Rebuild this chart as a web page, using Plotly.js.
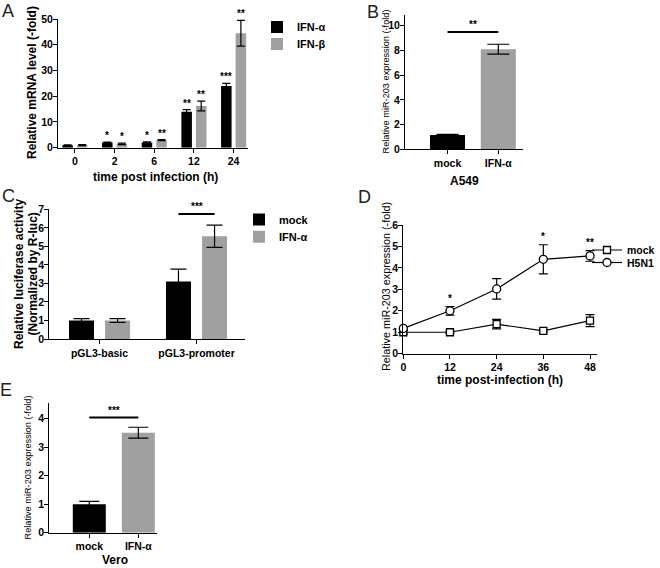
<!DOCTYPE html>
<html><head><meta charset="utf-8">
<script src="https://cdn.plot.ly/plotly-3.0.1.min.js"></script>
<style>html,body{margin:0;padding:0;background:#fff}#chart{width:660px;height:568px}</style>
</head><body><div id="chart"></div>
<script>
// ---------- Panel A : relative mRNA level ----------
const timeCatsA = ['0', '2', '6', '12', '24'];
const ifnAlphaA = [1.0, 2.0, 2.0, 14.0, 24.0];
const ifnAlphaErrA = [0.1, 0.2, 0.3, 0.8, 1.0];
const ifnBetaA = [1.0, 1.5, 2.9, 16.2, 44.5];
const ifnBetaErrA = [0.2, 0.3, 0.2, 1.9, 5.0];
const sigAlphaA = ['', '*', '*', '**', '***'];
const sigBetaA = ['', '*', '**', '**', '**'];
const seriesNamesA = ['IFN-α', 'IFN-β'];

// ---------- Panel B : A549 miR-203 ----------
const catsB = ['mock', 'IFN-α'];
const valsB = [1.16, 8.1];
const errB = [0.04, 0.4];
const sigB = '**';

// ---------- Panel C : luciferase ----------
const catsC = ['pGL3-basic', 'pGL3-promoter'];
const mockC = [1.0, 3.1];
const mockErrC = [0.1, 0.67];
const ifnC = [1.0, 5.55];
const ifnErrC = [0.1, 0.6];
const sigC = '***';
const seriesNamesC = ['mock', 'IFN-α'];

// ---------- Panel D : time course ----------
const timeD = [0, 12, 24, 36, 48];
const mockD = [1.0, 1.0, 1.38, 1.06, 1.54];
const mockErrD = [0.08, 0.05, 0.22, 0.06, 0.28];
const h5n1D = [1.18, 2.0, 3.02, 4.4, 4.56];
const h5n1ErrD = [0.08, 0.2, 0.48, 0.68, 0.25];
const sigD = ['', '*', '', '*', '**'];
const seriesNamesD = ['mock', 'H5N1'];

// ---------- Panel E : Vero ----------
const catsE = ['mock', 'IFN-α'];
const valsE = [1.0, 3.51];
const errE = [0.1, 0.19];
const sigE = '***';

// ---------- styling ----------
const W = 660, H = 568;
const px = v => v / W, py = v => 1 - v / H;
const BLACK = '#000000', GRAY = '#a0a0a0';
const FONT = 'Liberation Sans, Arial, Helvetica, sans-serif';
const idx = a => a.map((_, i) => i);

const baseAx = {
  showline: true, linecolor: '#000', linewidth: 1, ticks: 'outside', ticklen: 4,
  tickwidth: 1, tickcolor: '#000', showgrid: false, zeroline: false, fixedrange: true,
  tickfont: {family: FONT, size: 10.5, color: '#000', weight: 'bold'}
};
const ax = o => Object.assign({}, baseAx, o);
const yax = o => Object.assign({}, baseAx, {ticklabelstandoff: -2}, o);
const errStyle = (arr, w) => ({type: 'data', array: arr, visible: true, color: '#000', thickness: 1.2, width: w});

// bar geometry (category units)
const wA = 0.265, offA = [-0.316, 0.051];
const wB = 0.69, wE = 0.673;
const wC = 0.258, offC = [-0.315, 0.057];

const traces = [];
// A
traces.push({type: 'bar', x: idx(timeCatsA), y: ifnAlphaA, name: seriesNamesA[0], xaxis: 'x', yaxis: 'y',
  width: wA, offset: offA[0], marker: {color: BLACK}, error_y: errStyle(ifnAlphaErrA, 4), legend: 'legend'});
traces.push({type: 'bar', x: idx(timeCatsA), y: ifnBetaA, name: seriesNamesA[1], xaxis: 'x', yaxis: 'y',
  width: wA, offset: offA[1], marker: {color: GRAY}, error_y: errStyle(ifnBetaErrA, 4), legend: 'legend2'});
// B
traces.push({type: 'bar', x: idx(catsB), y: valsB, xaxis: 'x2', yaxis: 'y2', showlegend: false,
  width: wB, offset: -wB / 2, marker: {color: [BLACK, GRAY]}, error_y: errStyle(errB, 11)});
// C
traces.push({type: 'bar', x: idx(catsC), y: mockC, name: seriesNamesC[0], xaxis: 'x3', yaxis: 'y3',
  width: wC, offset: offC[0], marker: {color: BLACK}, error_y: errStyle(mockErrC, 8), legend: 'legend3'});
traces.push({type: 'bar', x: idx(catsC), y: ifnC, name: seriesNamesC[1], xaxis: 'x3', yaxis: 'y3',
  width: wC, offset: offC[1], marker: {color: GRAY}, error_y: errStyle(ifnErrC, 8), legend: 'legend4'});
// D
traces.push({type: 'scatter', mode: 'lines+markers', x: timeD, y: mockD, name: seriesNamesD[0], xaxis: 'x4', yaxis: 'y4',
  line: {color: '#000', width: 1.2}, cliponaxis: false,
  marker: {symbol: 'square', size: 7, color: '#fff', line: {color: '#000', width: 1.3}},
  error_y: errStyle(mockErrD, 4.5), legend: 'legend5'});
traces.push({type: 'scatter', mode: 'lines+markers', x: timeD, y: h5n1D, name: seriesNamesD[1], xaxis: 'x4', yaxis: 'y4',
  line: {color: '#000', width: 1.2}, cliponaxis: false,
  marker: {symbol: 'circle', size: 8, color: '#fff', line: {color: '#000', width: 1.3}},
  error_y: errStyle(h5n1ErrD, 4.5), legend: 'legend6'});
// E
traces.push({type: 'bar', x: idx(catsE), y: valsE, xaxis: 'x5', yaxis: 'y5', showlegend: false,
  width: wE, offset: -wE / 2, marker: {color: [BLACK, GRAY]}, error_y: errStyle(errE, 10)});

// ---------- annotations ----------
const ann = [];
const txt = (text, x, y, o) => ann.push(Object.assign({text, x, y, xref: 'paper', yref: 'paper',
  showarrow: false, xanchor: 'center', yanchor: 'middle', font: {family: FONT, size: 11, color: '#000'}}, o || {}));
// panel letters
[['A', 8, 11], ['B', 373, 12], ['C', 8, 196], ['D', 364, 197], ['E', 6, 390]].forEach(([t, x, y]) =>
  txt(t, px(x), py(y), {font: {family: FONT, size: 18, color: '#222'}}));
// axis titles
const bold = (s, size) => ({font: {family: FONT, size, color: '#000', weight: 'bold'}});
txt('Relative mRNA level (-fold)', px(32), py(83), Object.assign({textangle: -90}, bold(10.5)));
txt('time post infection (h)', px(155), py(177), bold(10.5));
txt('Relative miR-203 expression (-fold)', px(385.5), py(82), {textangle: -90, font: {family: FONT, size: 9.2, color: '#000'}});
txt('A549', px(464), py(181), bold(11));
txt('Relative luciferase activity', px(19), py(274), Object.assign({textangle: -90}, bold(10)));
txt('(Normalized by R-luc)', px(32.5), py(274), Object.assign({textangle: -90}, bold(10)));
txt('Relative miR-203 expression (-fold)', px(386), py(287), {textangle: -90, font: {family: FONT, size: 10.8, color: '#000'}});
txt('time post-infection (h)', px(500), py(380), bold(11));
txt('Relative miR-203 expression (-fold)', px(27.5), py(468), {textangle: -90, font: {family: FONT, size: 9.2, color: '#000'}});
txt('Vero', px(115), py(568), Object.assign({yanchor: 'bottom', borderpad: 0}, bold(11)));

// significance stars on bars
const star = (text, x, y, xr, yr, o) => ann.push(Object.assign({text, x, y, xref: xr, yref: yr, showarrow: false,
  xanchor: 'center', yanchor: 'bottom', font: {family: FONT, size: 10, color: '#000', weight: 'bold'}}, o || {}));
timeCatsA.forEach((_, i) => {
  if (sigAlphaA[i]) star(sigAlphaA[i], i + offA[0] + wA / 2, ifnAlphaA[i] + ifnAlphaErrA[i], 'x', 'y', {yshift: -1});
  if (sigBetaA[i]) star(sigBetaA[i], i + offA[1] + wA / 2, ifnBetaA[i] + ifnBetaErrA[i], 'x', 'y', {yshift: -1});
});
timeD.forEach((t, i) => { if (sigD[i]) star(sigD[i], t, h5n1D[i] + h5n1ErrD[i], 'x4', 'y4', {yshift: 1}); });

// bracket lines
const shapes = [];
const bracket = (x0, x1, y, xr, yr, label) => {
  shapes.push({type: 'line', xref: xr, yref: yr, x0, x1, y0: y, y1: y, line: {color: '#000', width: 2}});
  star(label, (x0 + x1) / 2, y, xr, yr, {yshift: 0});
};
bracket(0, 1, 9.5, 'x2', 'y2', sigB);
bracket(1 + offC[0] + wC / 2, 1 + offC[1] + wC / 2, 6.74, 'x3', 'y3', sigC);
bracket(0, 1, 4.04, 'x5', 'y5', sigE);

const legFont = {family: FONT, size: 11, color: '#000', weight: 'bold'};
const leg = (x, y, size) => ({x: px(x), y: py(y), xanchor: 'left', yanchor: 'middle', bgcolor: 'rgba(0,0,0,0)',
  borderwidth: 0, itemwidth: 30, font: Object.assign({}, legFont, {size: size || 11})});

const layout = {
  width: W, height: H, margin: {l: 0, r: 0, t: 0, b: 0},
  paper_bgcolor: '#fff', plot_bgcolor: '#fff', barmode: 'overlay', showlegend: true,
  font: {family: FONT, color: '#000'},
  xaxis: ax({domain: [px(58), px(247.5)], range: [-0.426, 4.35], tickvals: idx(timeCatsA), ticktext: timeCatsA, anchor: 'y'}),
  yaxis: yax({domain: [py(147.7), py(19)], range: [0, 50], dtick: 10, anchor: 'x'}),
  xaxis2: ax({domain: [px(405), px(523)], range: [-0.837, 1.486], tickvals: idx(catsB), ticktext: catsB, anchor: 'y2'}),
  yaxis2: yax({domain: [py(149.3), py(14.6)], range: [0, 10.9], tickvals: [0, 2, 4, 6, 8, 10], anchor: 'x2'}),
  xaxis3: ax({domain: [px(49.3), px(245)], range: [-0.518, 1.5], tickvals: idx(catsC), ticktext: catsC, anchor: 'y3'}),
  yaxis3: yax({domain: [py(339), py(209.3)], range: [0, 7], dtick: 1, anchor: 'x3'}),
  xaxis4: ax({domain: [px(403.3), px(597)], range: [0, 49.8], tickvals: timeD, anchor: 'y4'}),
  yaxis4: yax({domain: [py(353.7), py(225)], range: [0, 6], dtick: 1, anchor: 'x4'}),
  xaxis5: ax({domain: [px(49.3), px(156.7)], range: [-0.816, 1.375], tickvals: idx(catsE), ticktext: catsE, anchor: 'y5'}),
  yaxis5: yax({domain: [py(532.7), py(403.3)], range: [0, 4.54], tickvals: [0, 1, 2, 3, 4], anchor: 'x5'}),
  legend: leg(257, 27), legend2: leg(257, 44),
  legend3: leg(239, 219.5), legend4: leg(239, 236.7),
  legend5: leg(587, 250, 10.5), legend6: leg(587, 262.5, 10.5),
  annotations: ann, shapes: shapes
};

Plotly.newPlot('chart', traces, layout, {displayModeBar: false, staticPlot: true});
</script>
</body></html>
